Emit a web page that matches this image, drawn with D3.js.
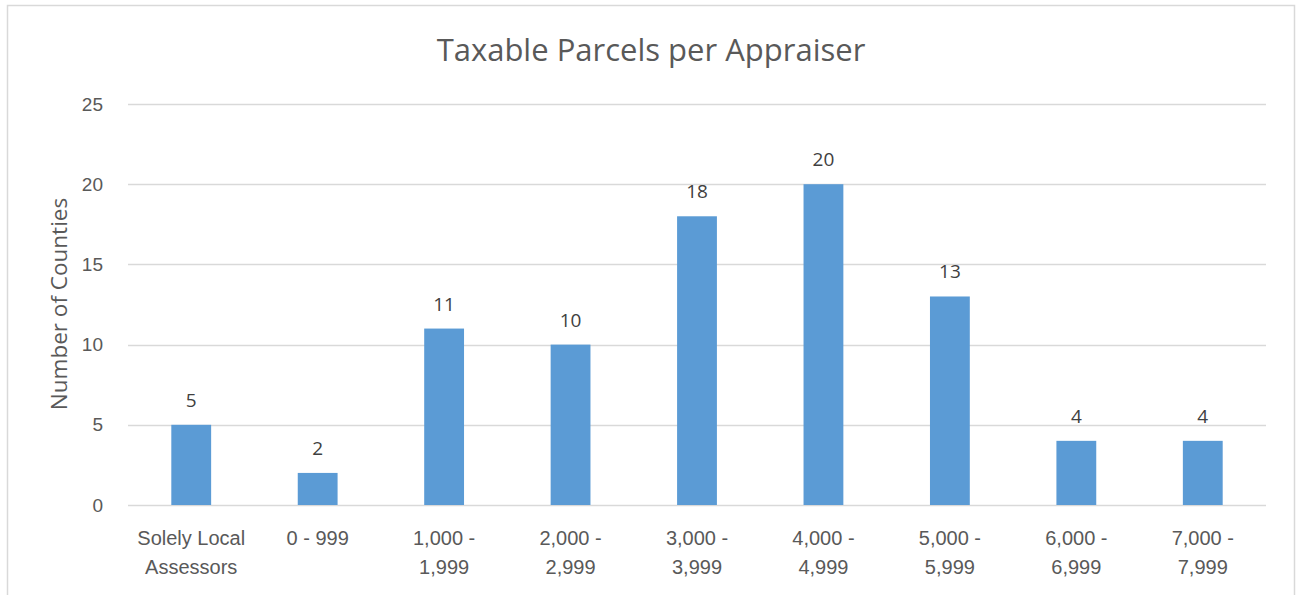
<!DOCTYPE html>
<html>
<head>
<meta charset="utf-8">
<script src="https://cdn.jsdelivr.net/npm/d3@7"></script>
<style>
  body { margin: 0; background: #fff; }
  svg { font-family: "Open Sans", "Liberation Sans", sans-serif; }
</style>
</head>
<body>
<div id="chart"></div>
<script>
const categories = [
  ["Solely Local", "Assessors"],
  ["0 - 999"],
  ["1,000 -", "1,999"],
  ["2,000 -", "2,999"],
  ["3,000 -", "3,999"],
  ["4,000 -", "4,999"],
  ["5,000 -", "5,999"],
  ["6,000 -", "6,999"],
  ["7,000 -", "7,999"]
];
const counties = [5, 2, 11, 10, 18, 20, 13, 4, 4];
const yTicks = [0, 5, 10, 15, 20, 25];

const W = 1297, H = 595;
const margin = { top: 104, right: 31, bottom: 90, left: 128 };
const width = W - margin.left - margin.right;
const height = H - margin.top - margin.bottom;

const svg = d3.select("#chart")
  .append("svg")
  .attr("width", W)
  .attr("height", H);

// chart border (bottom edge runs off the picture)
svg.append("path")
  .attr("d", `M7.5,${H} V5.5 H1294.5 V${H}`)
  .attr("fill", "none")
  .attr("stroke", "#d9d9d9")
  .attr("stroke-width", 1.5);

const g = svg.append("g")
  .attr("transform", `translate(${margin.left},${margin.top})`);

const keys = categories.map((c, i) => i);
const x = d3.scaleBand()
  .domain(keys)
  .range([0, width])
  .paddingInner(0.685)
  .paddingOuter(0.3425);

const y = d3.scaleLinear()
  .domain([0, 25])
  .range([height, 0]);

// gridlines
g.append("g")
  .selectAll("line")
  .data(yTicks)
  .join("line")
  .attr("x1", 0)
  .attr("x2", width)
  .attr("y1", d => Math.round(y(d)) + 0.5)
  .attr("y2", d => Math.round(y(d)) + 0.5)
  .attr("stroke", "#d9d9d9")
  .attr("stroke-width", 1.5);

// y axis labels
const yAxis = g.append("g")
  .call(d3.axisLeft(y).tickValues(yTicks).tickSize(0).tickPadding(25));
yAxis.select(".domain").remove();
yAxis.selectAll("text")
  .attr("fill", "#595959")
  .style("font-size", "19px");

// bars
g.selectAll("rect.bar")
  .data(counties)
  .join("rect")
  .attr("class", "bar")
  .attr("x", (d, i) => x(i))
  .attr("y", d => y(d))
  .attr("width", x.bandwidth())
  .attr("height", d => height - y(d))
  .attr("fill", "#5b9bd5");

// data labels
g.selectAll("text.val")
  .data(counties)
  .join("text")
  .attr("class", "val")
  .attr("x", (d, i) => x(i) + x.bandwidth() / 2)
  .attr("y", d => y(d) - 18)
  .attr("text-anchor", "middle")
  .attr("fill", "#404040")
  .style("font-size", "19px")
  .text(d => d);

// category labels
const xAxis = g.append("g")
  .attr("transform", `translate(0,${height})`)
  .call(d3.axisBottom(x).tickSize(0).tickFormat(""));
xAxis.select(".domain").remove();
xAxis.selectAll(".tick").each(function(i) {
  const t = d3.select(this).append("text")
    .attr("text-anchor", "middle")
    .attr("fill", "#595959")
    .style("font-size", "20px");
  categories[i].forEach((line, k) => {
    t.append("tspan")
      .attr("x", 0)
      .attr("y", 40 + k * 29)
      .text(line);
  });
});

// title
svg.append("text")
  .attr("x", 651)
  .attr("y", 61)
  .attr("text-anchor", "middle")
  .attr("fill", "#595959")
  .style("font-size", "31px")
  .text("Taxable Parcels per Appraiser");

// y axis title
svg.append("text")
  .attr("transform", `translate(67,${margin.top + 200}) rotate(-90)`)
  .attr("text-anchor", "middle")
  .attr("fill", "#595959")
  .style("font-size", "22.5px")
  .text("Number of Counties");
</script>
</body>
</html>
